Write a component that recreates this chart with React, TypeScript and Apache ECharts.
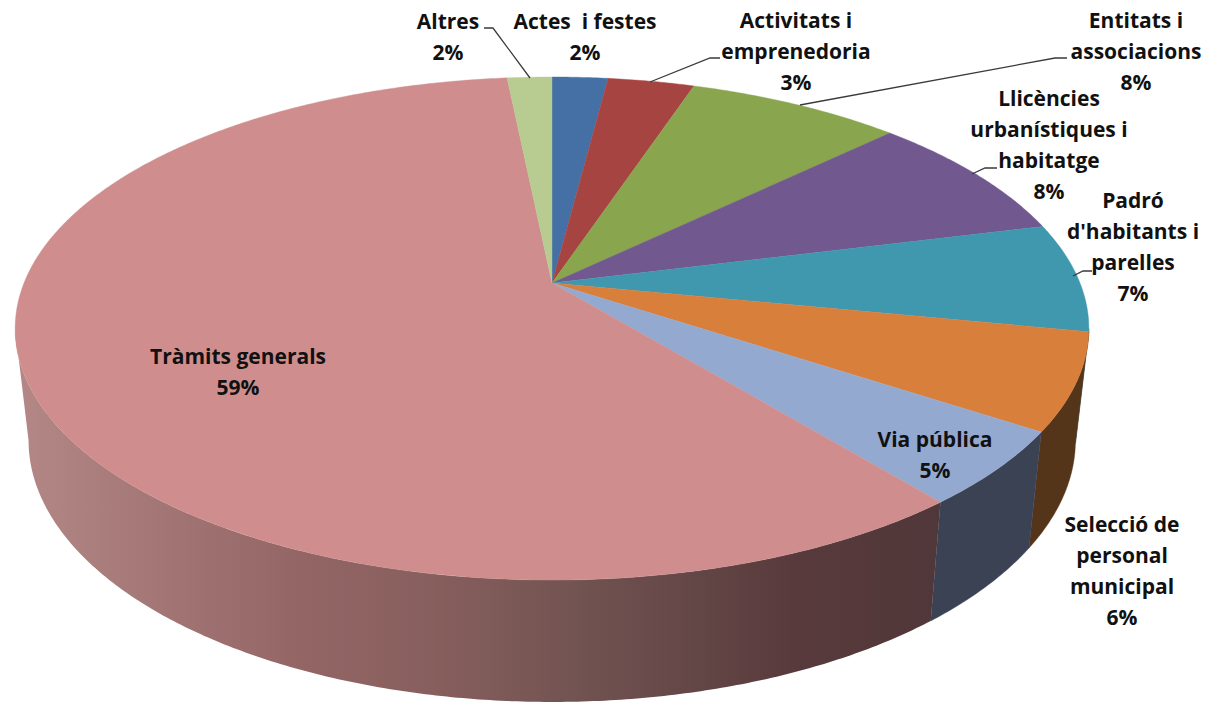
import React, { useEffect, useRef } from "react";
import * as echarts from "echarts";

const categories = [
  "Actes  i festes",
  "Activitats i emprenedoria",
  "Entitats i associacions",
  "Llicències urbanístiques i habitatge",
  "Padró d'habitants i parelles",
  "Selecció de personal municipal",
  "Via pública",
  "Tràmits generals",
  "Altres",
];
const shares = [2.0, 3.1, 7.7, 8.3, 7.0, 6.2, 4.8, 59.3, 1.6];

const topColors = ["#4470a5", "#a64442", "#89a54e", "#71588f", "#4098af", "#d87f3c", "#94a9d0", "#cf8e8d", "#b8cc92"];
const sideColors = ["#2b4668", "#682a29", "#566731", "#473759", "#285f6d", "#55351a", "#3b4254", "", "#737f5b"];

// wrapped label lines, in the same order as categories
const labelLines = [
  ["Actes  i festes"],
  ["Activitats i", "emprenedoria"],
  ["Entitats i", "associacions"],
  ["Llicències", "urbanístiques i", "habitatge"],
  ["Padró", "d'habitants i", "parelles"],
  ["Selecció de", "personal", "municipal"],
  ["Via pública"],
  ["Tràmits generals"],
  ["Altres"],
];
const labelPlace = [
  [585, 21],
  [796, 20],
  [1136, 20],
  [1049, 98],
  [1133, 200],
  [1122, 524],
  [935, 439],
  [238, 356],
  [448, 21],
];
const leaders = [
  [[484, 28], [493, 28], [530, 78]],
  [[720, 58], [710, 58], [650, 82]],
  [[1067, 58], [1055, 58], [800, 105]],
  [[997, 168], [985, 168], [972, 174]],
  [[1092, 271], [1083, 271], [1073, 276]],
];

// projective view of the pie's top disc
const APEX_X = 552;
const APEX_Y = 283;
const A = 528;
const B = 243.3;
const K = 0.181;
const project = (t: number) => {
  const th = t * 2 * Math.PI;
  const w = 1 + K * Math.cos(th);
  return [APEX_X + (A * Math.sin(th)) / w, APEX_Y - (B * Math.cos(th)) / w];
};
const lower = (p: number[]) => [APEX_X + (p[0] - APEX_X) * 0.975, 393 + (p[1] - APEX_Y) * 1.04];
const arc = (a: number, b: number) => {
  const n = Math.max(2, Math.ceil((b - a) * 720));
  const pts: number[][] = [];
  for (let i = 0; i <= n; i++) pts.push(project(a + ((b - a) * i) / n));
  return pts;
};

const total = shares.reduce((s, v) => s + v, 0);
let running = 0;
const spans = shares.map((v) => {
  const s = running / total;
  running += v;
  return [s, running / total];
});

const pinkWall = () =>
  new echarts.graphic.LinearGradient(
    15, 0, 945, 0,
    [
      { offset: 0, color: "#b38886" },
      { offset: 0.3, color: "#946666" },
      { offset: 0.45, color: "#875f5d" },
      { offset: 0.62, color: "#6f5250" },
      { offset: 0.84, color: "#583a3c" },
      { offset: 1, color: "#503739" },
    ],
    true
  );

const renderTop = (params: any, api: any) => {
  const i = params.dataIndex;
  const pts = [[APEX_X, APEX_Y], ...arc(api.value(0), api.value(1))];
  return {
    type: "polygon",
    shape: { points: pts },
    style: { fill: topColors[i], stroke: topColors[i], lineWidth: 0.4 },
  };
};

const renderWall = (params: any, api: any) => {
  const i = params.dataIndex;
  const a = Math.max(api.value(0), 0.279);
  const b = Math.min(api.value(1), 0.721);
  if (b <= a) return { type: "group", children: [] };
  const upper = arc(a, b);
  const bottom = upper.map(lower).reverse();
  const fill = sideColors[i] || pinkWall();
  return {
    type: "polygon",
    shape: { points: [...upper, ...bottom] },
    style: { fill, stroke: i === 7 ? undefined : sideColors[i], lineWidth: 0.4 },
  };
};

const labelGraphics = () => {
  const els: any[] = [];
  leaders.forEach((pts) => {
    els.push({
      type: "polyline",
      shape: { points: pts },
      style: { fill: "none", stroke: "#3a3a3a", lineWidth: 1.3 },
      z: 20,
    });
  });
  categories.forEach((_, i) => {
    const lines = [...labelLines[i], `${Math.round(shares[i])}%`];
    lines.forEach((line, j) => {
      els.push({
        type: "text",
        x: labelPlace[i][0],
        y: labelPlace[i][1] + j * 31,
        z: 30,
        style: {
          text: line,
          fill: "#111111",
          font: 'bold 21px "Open Sans", Lato, sans-serif',
          align: "center",
          verticalAlign: "middle",
        },
      });
    });
  });
  return els;
};

export default function App() {
  const ref = useRef<HTMLDivElement>(null);
  useEffect(() => {
    document.body.style.margin = "0";
    const chart = echarts.init(ref.current!, null, { renderer: "svg" });
    const data = spans.map((s, i) => ({ name: categories[i], value: s }));
    chart.setOption({
      animation: false,
      backgroundColor: "#ffffff",
      series: [
        { type: "custom", coordinateSystem: "none", silent: true, z: 1, data, renderItem: renderWall },
        { type: "custom", coordinateSystem: "none", silent: true, z: 2, data, renderItem: renderTop },
      ],
      graphic: { elements: labelGraphics() },
    });
    return () => chart.dispose();
  }, []);
  return <div ref={ref} style={{ position: "absolute", left: 0, top: 0, width: 1205, height: 702 }} />;
}
